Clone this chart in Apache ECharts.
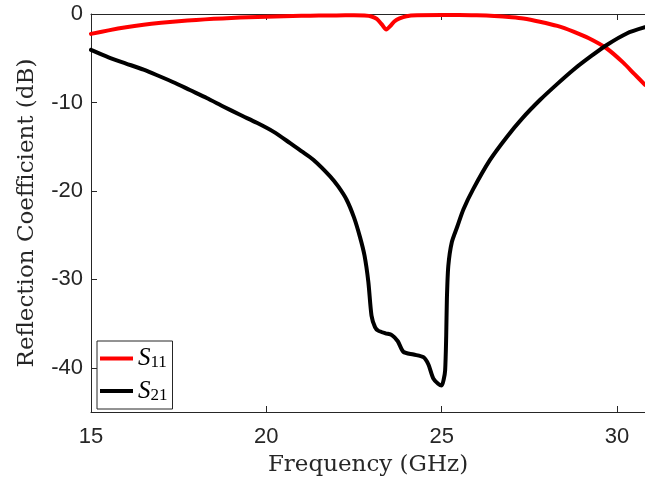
<!DOCTYPE html>
<html>
<head>
<meta charset="utf-8">
<script src="https://cdn.jsdelivr.net/npm/echarts@6/dist/echarts.min.js"></script>
<style>
html,body{margin:0;padding:0;background:#fff;}
#chart{width:645px;height:485px;}
</style>
</head>
<body>
<div id="chart"></div>
<script>
// Data
const s11Freq = [15, 15.5, 16, 16.5, 17, 17.5, 18, 18.5, 19, 19.5, 20, 20.5, 21, 21.5, 22, 22.5, 22.8, 23.0, 23.15, 23.3, 23.42, 23.55, 23.65, 23.8, 24.0, 24.3, 25, 25.5, 26, 26.5, 27, 27.33, 27.8, 28.3, 28.76, 29.2, 29.71, 30.18, 30.5, 30.8];
const s11Db = [-2.25, -1.85, -1.5, -1.22, -1.0, -0.82, -0.67, -0.55, -0.45, -0.36, -0.3, -0.25, -0.21, -0.18, -0.16, -0.15, -0.18, -0.28, -0.55, -1.2, -1.75, -1.3, -0.85, -0.5, -0.25, -0.15, -0.1, -0.1, -0.14, -0.22, -0.36, -0.5, -0.87, -1.35, -2.0, -2.75, -3.9, -5.5, -6.8, -8.0];

const s21Freq = [15, 15.5, 16, 16.5, 16.87, 17.4, 17.82, 18.3, 18.77, 19.25, 19.73, 20.2, 20.68, 21.0, 21.34, 21.82, 22.05, 22.29, 22.5, 22.67, 22.8, 22.91, 23.0, 23.1, 23.19, 23.4, 23.58, 23.75, 23.91, 24.2, 24.48, 24.62, 24.76, 24.9, 25.0, 25.06, 25.1, 25.13, 25.15, 25.19, 25.29, 25.45, 25.62, 25.9, 26.38, 26.86, 27.3, 27.81, 28.3, 28.76, 29.25, 29.71, 30.28, 30.8];
const s21Db = [-4.06, -4.9, -5.6, -6.3, -6.9, -7.8, -8.6, -9.5, -10.45, -11.4, -12.3, -13.3, -14.6, -15.5, -16.47, -18.35, -19.5, -21.0, -23.0, -25.2, -27.3, -30.3, -34.1, -35.4, -35.8, -36.1, -36.3, -37.0, -38.2, -38.5, -38.8, -39.6, -41.2, -41.8, -42.0, -41.3, -40.3, -36.5, -32.2, -28.5, -25.8, -24.0, -22.1, -19.8, -16.5, -13.9, -11.8, -9.7, -7.9, -6.3, -4.8, -3.5, -2.2, -1.5];

const xTicks = [15, 20, 25, 30];
const yTicks = [-40, -30, -20, -10, 0];
const xRange = [15, 30.8];
const yRange = [-45, 0];

const seriesNames = ['S11', 'S21'];
const seriesColors = ['#ff0000', '#000000'];

const zip = (xs, ys) => xs.map((x, i) => [x, ys[i]]);

const axisColor = '#262626';
const serifFont = 'DejaVu Serif';
const sansFont = 'Liberation Sans';

const chart = echarts.init(document.getElementById('chart'), null, {renderer: 'canvas'});

const option = {
  animation: false,
  backgroundColor: '#ffffff',
  grid: {left: 91, top: 14, right: 0, bottom: 73, containLabel: false},
  xAxis: [{
    type: 'value',
    min: xRange[0], max: xRange[1],
    name: 'Frequency (GHz)',
    nameLocation: 'middle',
    nameGap: 42,
    nameTextStyle: {fontFamily: serifFont, fontSize: 23, color: axisColor},
    axisLine: {show: true, onZero: false, lineStyle: {color: axisColor, width: 1}},
    axisTick: {show: true, inside: true, length: 6, customValues: xTicks, lineStyle: {color: axisColor}},
    axisLabel: {customValues: xTicks, fontFamily: sansFont, fontSize: 22, color: axisColor, margin: 14},
    splitLine: {show: false}
  }, {
    type: 'value',
    position: 'top',
    min: xRange[0], max: xRange[1],
    axisLine: {show: true, onZero: false, lineStyle: {color: axisColor, width: 1}},
    axisTick: {show: true, inside: true, length: 6, customValues: xTicks, lineStyle: {color: axisColor}},
    axisLabel: {show: false},
    splitLine: {show: false}
  }],
  yAxis: {
    type: 'value',
    min: yRange[0], max: yRange[1],
    name: 'Reflection Coefficient (dB)',
    nameLocation: 'middle',
    nameGap: 52,
    nameTextStyle: {fontFamily: serifFont, fontSize: 23, color: axisColor},
    axisLine: {show: true, onZero: false, lineStyle: {color: axisColor, width: 1}},
    axisTick: {show: true, inside: true, length: 6, customValues: yTicks, lineStyle: {color: axisColor}},
    axisLabel: {customValues: yTicks, fontFamily: sansFont, fontSize: 22, color: axisColor, margin: 8},
    splitLine: {show: false}
  },
  legend: {
    orient: 'vertical',
    left: 97, top: 341,
    padding: [5, 5, 5, 3],
    itemGap: 7,
    itemWidth: 33, itemHeight: 4,
    itemTextGap: 4,
    icon: 'rect',
    backgroundColor: '#ffffff',
    borderColor: axisColor,
    borderWidth: 1,
    borderRadius: 0,
    data: seriesNames,
    formatter: function (name) {
      return '{s|S}{sub|' + name.slice(1) + '}';
    },
    textStyle: {
      color: '#000',
      rich: {
        s: {fontFamily: 'Liberation Serif', fontStyle: 'italic', fontSize: 25, lineHeight: 26, color: '#000'},
        sub: {fontFamily: 'Liberation Serif', fontSize: 17, lineHeight: 16, padding: [8, 0, 0, 0], verticalAlign: 'bottom', color: '#000'}
      }
    }
  },
  series: [{
    name: seriesNames[0],
    type: 'line',
    data: zip(s11Freq, s11Db),
    showSymbol: false,
    clip: false,
    color: seriesColors[0],
    lineStyle: {width: 4, color: seriesColors[0], join: 'round', cap: 'round'},
    smooth: 0.25
  }, {
    name: seriesNames[1],
    type: 'line',
    data: zip(s21Freq, s21Db),
    showSymbol: false,
    clip: false,
    color: seriesColors[1],
    lineStyle: {width: 4, color: seriesColors[1], join: 'round', cap: 'round'},
    smooth: 0.25
  }]
};
chart.setOption(option);
</script>
</body>
</html>
